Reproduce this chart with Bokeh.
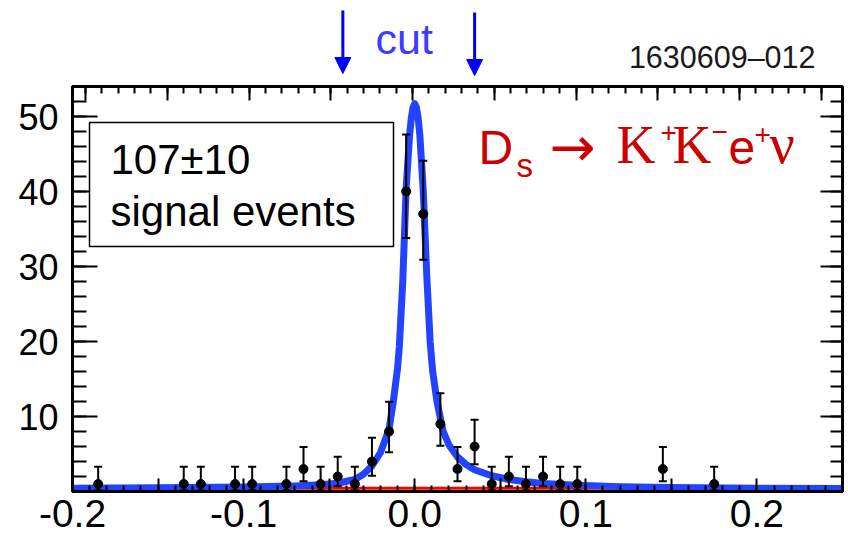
import numpy as np
from bokeh.plotting import figure
from bokeh.layouts import column
from bokeh.models import (ColumnDataSource, Whisker, TeeHead, Label, BoxAnnotation,
                          Arrow, NormalHead, LinearAxis, Range1d, FixedTicker)
from bokeh.embed import file_html
from bokeh.resources import INLINE

# ---------------- data ----------------
bin_x = [-0.185, -0.135, -0.125, -0.105, -0.095, -0.075, -0.065, -0.055, -0.045,
         -0.035, -0.025, -0.015, -0.005, 0.005, 0.015, 0.025, 0.035, 0.045, 0.055,
         0.065, 0.075, 0.085, 0.095, 0.145, 0.175]
counts = [1, 1, 1, 1, 1, 1, 3, 1, 2, 1, 4, 8, 40, 37, 9, 3, 6, 1, 2, 1, 2, 1, 1, 3, 1]
err_lo = [0.83, 0.83, 0.83, 0.83, 0.83, 0.83, 1.63, 0.83, 1.29, 0.83, 1.91, 2.78, 6.2, 6.1,
          2.9, 1.63, 2.38, 0.83, 1.29, 0.83, 1.29, 0.83, 0.83, 1.63, 0.83]
err_hi = [2.30, 2.30, 2.30, 2.30, 2.30, 2.30, 2.92, 2.30, 2.64, 2.30, 3.16, 3.96, 7.6, 7.1,
          4.11, 2.92, 3.58, 2.30, 2.64, 2.30, 2.64, 2.30, 2.30, 2.92, 2.30]

fit_x = [-0.20, -0.15, -0.10, -0.07, -0.055, -0.045, -0.035, -0.03, -0.025, -0.02, -0.015,
         -0.0125, -0.01, -0.009, -0.007, -0.005, -0.003, -0.002, -0.001, 0.0, 0.001, 0.002,
         0.003, 0.005, 0.007, 0.009, 0.0105, 0.013, 0.0165, 0.02, 0.025, 0.03, 0.035, 0.045,
         0.055, 0.065, 0.075, 0.095, 0.12, 0.15, 0.20, 0.25]
fit_y = [0.45, 0.5, 0.6, 0.75, 0.9, 1.1, 1.6, 2.3, 3.4, 5.2, 8.3,
         12.0, 16.5, 19.3, 28.0, 40.5, 47.5, 49.8, 51.2, 51.7, 51.2, 49.8,
         47.5, 40.0, 29.0, 20.0, 16.0, 12.0, 8.1, 6.2, 4.6, 3.6, 2.9, 2.1,
         1.6, 1.3, 1.07, 0.85, 0.65, 0.55, 0.45, 0.4]

bkg_x = [-0.20, 0.25]
bkg_y = [0.45, 0.45]

cut_x = [-0.042, 0.035]

x_major_ticks = [-0.2, -0.15, -0.1, -0.05, 0.0, 0.05, 0.1, 0.15, 0.2, 0.25]
x_tick_labels = {-0.2: "-0.2", -0.15: "", -0.1: "-0.1", -0.05: "", 0.0: "0.0",
                 0.05: "", 0.1: "0.1", 0.15: "", 0.2: "0.2", 0.25: ""}
x_minor_ticks = [round(-0.20 + 0.01 * i, 2) for i in range(46)]
y_major_ticks = [10, 20, 30, 40, 50]
y_minor_ticks = list(range(0, 54, 2))

# ---------------- layout ----------------
X0, X1, Y0, Y1 = -0.2, 0.25, 0.0, 54.0
W, H = 848, 536
HT = 78                 # header strip height (arrows, "cut", run number)
BL, BR = 72, 6
MT = 8                  # main figure top border -> frame top at page y 86
FW = W - BL - BR
FH = 405
MH = H - HT
BB = MH - MT - FH
FL, FT = BL, HT + MT    # page px of frame left/top
LIFT = 0.38             # label baseline correction (in em)


def X(px):
    return X0 + (px - FL) * (X1 - X0) / FW


def Y(py):
    return Y1 - (py - FT) * (Y1 - Y0) / FH


def fpx(fs):
    return float(fs.replace("px", ""))


xr = Range1d(X0, X1)
FONT = "Liberation Sans"
SERIF = "Liberation Serif"

# ---------------- header strip ----------------
hd = figure(width=W, height=HT, x_range=xr, y_range=Range1d(HT, 0),
            output_backend="svg", toolbar_location=None,
            x_axis_location=None, y_axis_location=None,
            min_border_left=BL, min_border_right=BR, min_border_top=0, min_border_bottom=0)
hd.grid.visible = False
hd.outline_line_color = None
hd.background_fill_color = "white"
hd.border_fill_color = "white"

hd.add_layout(Label(x=X(375), y=55 - LIFT * 43, text="cut", text_font=FONT,
                    text_font_size="43px", text_color="#3c3cff", text_baseline="alphabetic"))
hd.add_layout(Label(x=X(815), y=68 - LIFT * 30.5, text="1630609–012", text_font=FONT,
                    text_font_size="30.5px", text_color="#1a1a1a", text_align="right",
                    text_baseline="alphabetic"))
arrow_tops = [10, 12]
arrow_tips = [73, 75]
for cx, ty, tp in zip(cut_x, arrow_tops, arrow_tips):
    hd.add_layout(Arrow(x_start=cx, y_start=ty, x_end=cx, y_end=tp,
                        line_color="#0000ff", line_width=3,
                        end=NormalHead(size=16, fill_color="#0000ff", line_color="#0000ff",
                                       line_width=1)))

# ---------------- main plot ----------------
p = figure(width=W, height=MH, x_range=xr, y_range=Range1d(Y0, Y1),
           output_backend="svg", toolbar_location=None,
           min_border_left=BL, min_border_right=BR, min_border_top=MT,
           min_border_bottom=BB)
p.extra_x_ranges = {"top": Range1d(-0.208, 0.263)}
p.xgrid.grid_line_color = None
p.ygrid.grid_line_color = None
p.outline_line_color = "black"
p.outline_line_width = 3
p.background_fill_color = "white"
p.border_fill_color = "white"

# bottom axis
xa = p.xaxis[0]
xa.ticker = FixedTicker(ticks=x_major_ticks, minor_ticks=x_minor_ticks)
xa.major_label_overrides = x_tick_labels
xa.major_label_text_font = FONT
xa.major_label_text_font_size = "39px"
xa.major_label_text_color = "black"
xa.major_label_standoff = 8
xa.major_tick_in = 13
xa.major_tick_out = 0
xa.minor_tick_in = 6
xa.minor_tick_out = 0
xa.axis_line_width = 3
xa.major_tick_line_width = 2
xa.minor_tick_line_width = 2

# left axis
ya = p.yaxis[0]
ya.ticker = FixedTicker(ticks=y_major_ticks, minor_ticks=y_minor_ticks)
ya.major_label_text_font = FONT
ya.major_label_text_font_size = "36px"
ya.major_label_text_color = "black"
ya.major_label_standoff = 14
ya.major_tick_in = 25
ya.major_tick_out = 0
ya.minor_tick_in = 14
ya.minor_tick_out = 0
ya.axis_line_width = 3
ya.major_tick_line_width = 2
ya.minor_tick_line_width = 2

# top axis (ticks only)
ta = LinearAxis(x_range_name="top",
                ticker=FixedTicker(ticks=x_major_ticks, minor_ticks=x_minor_ticks),
                major_label_overrides={t: "" for t in x_major_ticks},
                major_label_text_font_size="4px", major_label_standoff=0,
                major_tick_in=14, major_tick_out=0, minor_tick_in=7, minor_tick_out=0,
                axis_line_width=3, major_tick_line_width=2, minor_tick_line_width=2)
p.add_layout(ta, "above")

# right axis (ticks only)
ra = LinearAxis(ticker=FixedTicker(ticks=y_major_ticks, minor_ticks=y_minor_ticks),
                major_label_overrides={t: "" for t in y_major_ticks},
                major_label_text_font_size="4px", major_label_standoff=0,
                major_tick_in=22, major_tick_out=0, minor_tick_in=12, minor_tick_out=0,
                axis_line_width=3, major_tick_line_width=2, minor_tick_line_width=2)
p.add_layout(ra, "right")

# ---------------- marks ----------------
p.line(bkg_x, bkg_y, line_color="#ff0000", line_width=3)
p.line(fit_x, fit_y, line_color="#2244ff", line_width=7, line_join="round")

cnt = np.array(counts, dtype=float)
src = ColumnDataSource(dict(x=bin_x, y=counts,
                            lower=cnt - np.array(err_lo), upper=cnt + np.array(err_hi)))
wh = Whisker(source=src, base="x", lower="lower", upper="upper", line_color="black",
             line_width=2, level="overlay",
             upper_head=TeeHead(size=8, line_width=2, line_color="black"),
             lower_head=TeeHead(size=8, line_width=2, line_color="black"))
p.add_layout(wh)
p.scatter("x", "y", source=src, size=9, color="black")

# ---------------- annotations ----------------
box = BoxAnnotation(left=X(89), right=X(393), top=Y(122), bottom=Y(246),
                    fill_color="white", fill_alpha=1.0, line_color="black",
                    line_width=1.5, line_alpha=1.0)
p.add_layout(box)
p.add_layout(Label(x=X(110), y=Y(175 - LIFT * 42), text="107±10", text_font=FONT,
                   text_font_size="42px", text_color="black", text_baseline="alphabetic"))
p.add_layout(Label(x=X(110), y=Y(227 - LIFT * 42), text="signal events", text_font=FONT,
                   text_font_size="42px", text_color="black", text_baseline="alphabetic"))

RED = "#cc0000"
pieces = [
    ("D", 478, 165, FONT, "48px"),
    ("s", 516, 178, FONT, "33px"),
    ("→", 549, 167, "DejaVu Sans", "55px"),
    ("K", 616, 165, SERIF, "54px"),
    ("+", 660, 143, FONT, "28px"),
    ("K", 672, 165, SERIF, "54px"),
    ("−", 711, 142, FONT, "28px"),
    ("e", 728, 165, FONT, "48px"),
    ("+", 754, 145, FONT, "28px"),
    ("ν", 769, 165, SERIF, "56px"),
]
for t, px, py, f, fs in pieces:
    p.add_layout(Label(x=X(px), y=Y(py - LIFT * fpx(fs)), text=t, text_font=f,
                       text_font_size=fs, text_color=RED, text_baseline="alphabetic"))

layout = column(hd, p, spacing=0)
open("out.html", "w").write(file_html(layout, INLINE))
